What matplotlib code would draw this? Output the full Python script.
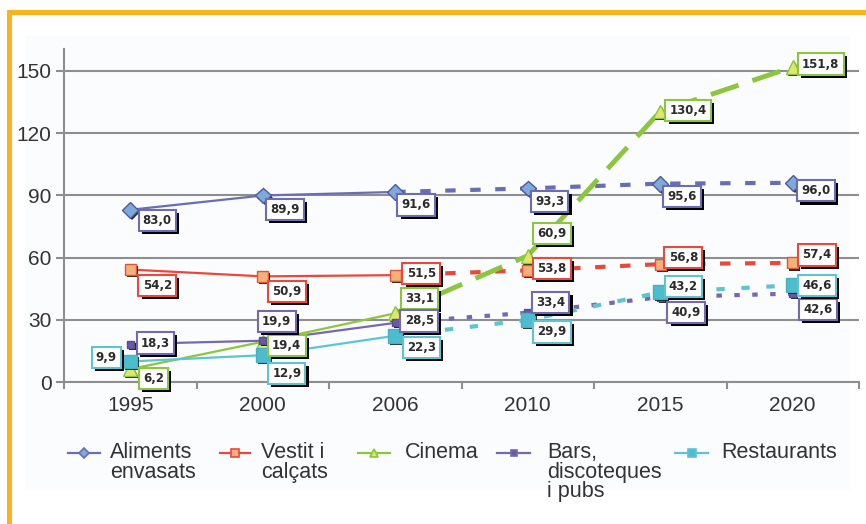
import numpy as np
import matplotlib.pyplot as plt
from matplotlib.lines import Line2D
from matplotlib.patches import Rectangle
import matplotlib.patheffects as pe

# data
years = ['1995', '2000', '2006', '2010', '2015', '2020']
aliments = [83.0, 89.9, 91.6, 93.3, 95.6, 96.0]
vestit = [54.2, 50.9, 51.5, 53.8, 56.8, 57.4]
cinema = [6.2, 19.4, 33.1, 60.9, 130.4, 151.8]
bars = [18.3, 19.9, 28.5, 33.4, 40.9, 42.6]
restaurants = [9.9, 12.9, 22.3, 29.9, 43.2, 46.6]
names = ['Aliments\nenvasats', 'Vestit i\ncalçats', 'Cinema',
         'Bars,\ndiscoteques\ni pubs', 'Restaurants']

# styles: line colour, marker, size, face, edge, dashes, dash width, label offsets (px)
styles = [
    dict(c='#6a6db4', m='D', ms=8, mfc='#7fa8dc', mec='#4d5a9e', dash=(2.5, 3.5), dlw=3.0,
         off=[(27, -11), (22, -14), (21, -13), (22, -13), (22, -13), (23, -8)]),
    dict(c='#e8493c', m='s', ms=8, mfc='#f6b07c', mec='#e0553a', dash=(2.5, 3.5), dlw=3.0,
         off=[(27, -16), (24, -15), (26, 2), (24, 2), (23, 7), (24, 8)]),
    dict(c='#8cc63f', m='^', ms=10, mfc='#dfe86a', mec='#8cc63f', dash=(6, 3), dlw=3.5,
         off=[(23, -9), (24, -4), (24, 15), (24, 22), (28, 1), (28, 3)]),
    dict(c='#7567b0', m='s', ms=5, mfc='#6a5aa6', mec='#5a4b96', dash=(1.3, 3), dlw=3.0,
         off=[(25, 1), (14, 19), (24, 2), (23, 10), (26, -15), (25, -16)]),
    dict(c='#5cc4d3', m='s', ms=10, mfc='#4dbccc', mec='#45b2c3', dash=(2, 4), dlw=3.0,
         off=[(-24, 4), (24, -18), (26, -12), (24, -12), (23, 6), (24, 0)]),
]
series = [aliments, vestit, cinema, bars, restaurants]

plt.rcParams['font.family'] = ['Liberation Sans', 'DejaVu Sans']

W, H = 866, 524
fig = plt.figure(figsize=(W / 100, H / 100), dpi=100)
fig.patch.set_facecolor('white')

# faint panel tint and orange frame
fig.add_artist(Rectangle((25 / W, 1 - 490 / H), 825 / W, 455 / H,
                         transform=fig.transFigure, fc='#fbfcfd', ec='none', zorder=0))
fig.add_artist(Rectangle((7 / W, 1 - 15 / H), 1, 5 / H, transform=fig.transFigure,
                         fc='#fbb31b', ec='none'))
fig.add_artist(Rectangle((7 / W, 0), 5 / W, 1 - 10 / H, transform=fig.transFigure,
                         fc='#fbb31b', ec='none'))

ax = fig.add_axes([64 / W, 142 / H, 795 / W, 333 / H])
ax.set_facecolor('none')
x = np.arange(len(years))

box_shadow = [pe.SimplePatchShadow(offset=(2.2, -2.2), shadow_rgbFace='k', alpha=1.0),
              pe.Normal()]

for vals, st in zip(series, styles):
    ax.plot(x[:3], vals[:3], color=st['c'], lw=1.6, zorder=3)
    ax.plot(x[2:], vals[2:], color=st['c'], lw=st['dlw'], dashes=st['dash'],
            zorder=3)
    ax.plot(x, vals, ls='none', marker=st['m'], ms=st['ms'], mfc=st['mfc'],
            mec=st['mec'], mew=1.0, zorder=4,
            path_effects=[pe.SimplePatchShadow(offset=(1.5, -1.5), shadow_rgbFace='k', alpha=0.85),
                          pe.Normal()])
    for xi, v, (dx, dy) in zip(x, vals, st['off']):
        txt = f'{v:.1f}'.replace('.', ',')
        t = ax.annotate(txt, (xi, v), xytext=(dx, dy), textcoords='offset pixels',
                        ha='center', va='center', fontsize=8.5, fontweight='bold',
                        family='DejaVu Sans', color='#2b2b2b', zorder=6,
                        bbox=dict(boxstyle='square,pad=0.35', fc='white', ec=st['c'], lw=1.5))
        t.get_bbox_patch().set_path_effects(box_shadow)

ax.set_xlim(-0.5, 5.5)
ax.set_ylim(0, 160.5)
ax.set_yticks([0, 30, 60, 90, 120, 150])
ax.yaxis.grid(True, color='#8e8e8e', lw=1.5, zorder=1)
ax.set_axisbelow(True)
ax.set_xticks(x)
ax.set_xticklabels(years)
ax.set_xticks(np.arange(-0.5, 6, 1), minor=True)
ax.tick_params(axis='x', which='major', length=0, pad=10, labelsize=15, labelcolor='#333333')
ax.tick_params(axis='x', which='minor', length=5, width=1.5, color='#8e8e8e')
ax.tick_params(axis='y', length=6, width=1.5, color='#8e8e8e', pad=3,
               labelsize=15, labelcolor='#333333')
for s in ['top', 'right']:
    ax.spines[s].set_visible(False)
for s in ['left', 'bottom']:
    ax.spines[s].set_color('#8e8e8e')
    ax.spines[s].set_linewidth(1.5)

# legend drawn by hand so handles sit on the first text line
leg_x = [(68, 100, 110), (220, 250, 261), (358, 390, 405), (497, 530, 547), (675, 708, 721)]
leg_y = 453
for (x0, x1, tx), name, st in zip(leg_x, names, styles):
    fig.add_artist(Line2D([x0 / W, x1 / W], [1 - leg_y / H] * 2, transform=fig.transFigure,
                          color=st['c'], lw=1.6))
    fig.add_artist(Line2D([(x0 + x1) / 2 / W], [1 - leg_y / H], transform=fig.transFigure,
                          ls='none', marker=st['m'], ms=min(st['ms'], 7) * 0.75,
                          mfc=st['mfc'], mec=st['c'], mew=1.2))
    fig.text(tx / W, 1 - 442 / H, name, ha='left', va='top', fontsize=15.5,
             color='#333333', linespacing=0.92)

fig.savefig('out.png', dpi=100)
